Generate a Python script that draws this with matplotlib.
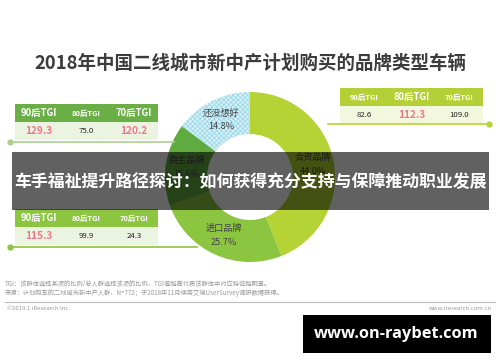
#!/usr/bin/env python3

import matplotlib.pyplot as plt
from matplotlib.patches import Rectangle
import numpy as np

plt.rcParams['font.family'] = ['Noto Sans CJK SC', 'DejaVu Sans']
plt.rcParams['hatch.linewidth'] = 0.6

# donut data
brands = ['合资品牌', '进口品牌', '自主品牌', '还没想好']
shares = [44.0, 25.7, 15.6, 14.8]

# TGI tables
tgi_cols = ['90后TGI', '80后TGI', '70后TGI']
tgi_zizhu = [129.3, 75.0, 120.2]
tgi_jinkou = [115.3, 99.9, 24.3]
tgi_hezi = [82.6, 112.3, 109.0]

title = '2018年中国二线城市新中产计划购买的品牌类型车辆'
banner = '车手福祉提升路径探讨：如何获得充分支持与保障推动职业发展'
note1 = 'TGI：该群体选择某项的比例/总人群选择该项的比例，TGI值越高代表该群体中对应特征越明显。'
note2 = '来源：计划购车的二线城市新中产人群，N=772；于2018年11月使用艾瑞UserSurvey调研数据获得。'

colors = ['#b5d334', '#8cc540', '#5fab40', '#d8f1f8']
pink = '#f0758a'

fig = plt.figure(figsize=(5, 3.62), dpi=100)
ax = fig.add_axes([0, 0, 1, 1])

cx, cy, R = 250, 177, 85
wedges, _ = ax.pie(shares, colors=colors, startangle=-90, counterclock=True,
                   radius=R, center=(cx, cy),
                   wedgeprops=dict(width=42, linewidth=0))
wedges[3].set_hatch('xxxxxxx')
wedges[3].set_edgecolor('#9ad8ea')
wedges[3].set_linewidth(0)

ax.set_xlim(0, 500)
ax.set_ylim(362, 0)
ax.axis('off')

# slice labels at the ring middle
rmid = R - 21
for w, name, s in zip(wedges, brands, shares):
    t = np.deg2rad((w.theta1 + w.theta2) / 2)
    x = cx + rmid * np.cos(t)
    y = cy + rmid * np.sin(t)
    ax.text(x, y - 7, name, ha='center', va='center', fontsize=6.6, color='#444444')
    ax.text(x, y + 7, f'{s:.1f}%', ha='center', va='center', fontsize=6.6, color='#444444')

ax.text(250, 63, title, ha='center', va='center', fontsize=13.3,
        fontweight='bold', color='#3c3c3c')


def tgi_table(x0, y0, vals, head_color, row_color, line_y, line_x0, line_x1, dot_x, line_color):
    w, h = 143, 18
    ax.add_patch(Rectangle((x0, y0), w, h, color=head_color, lw=0))
    ax.add_patch(Rectangle((x0, y0 + h), w, h, color=row_color, lw=0))
    for i, (c, v) in enumerate(zip(tgi_cols, vals)):
        xc = x0 + w / 6 + i * w / 3
        hi = v > 110
        ax.text(xc, y0 + h / 2, c, ha='center', va='center',
                fontsize=6.8 if hi else 5.4, color='white', fontweight='bold')
        ax.text(xc, y0 + h * 1.5, f'{v:.1f}', ha='center', va='center',
                fontsize=7.3 if hi else 5.6, color=pink if hi else '#222222',
                fontweight='bold' if hi else 'normal')
    ax.plot([line_x0, line_x1], [line_y, line_y], color=line_color, lw=1.2, zorder=1)
    ax.plot([dot_x], [line_y], 'o', color=line_color, ms=3.5, zorder=1)


tgi_table(15, 104, tgi_zizhu, '#6aaf46', '#ebf4e0', 142, 10, 174, 10, '#a9d18e')
tgi_table(15, 209, tgi_jinkou, '#8cc540', '#ebf4e0', 247, 10, 197, 10, '#8cc540')
tgi_table(340, 88, tgi_hezi, '#b5cf36', '#f3f7dd', 124, 328, 489, 489, '#b5d334')

# dark banner over the middle
ax.add_patch(Rectangle((12, 152), 477, 58, color='black', alpha=0.62, lw=0, zorder=5))
ax.text(250, 182, banner, ha='center', va='center', fontsize=12.2,
        fontweight='bold', color='white', zorder=6)

# footer
ax.text(5, 284, note1, ha='left', va='center', fontsize=4.5, color='#999999')
ax.text(5, 293, note2, ha='left', va='center', fontsize=4.5, color='#999999')
ax.plot([5, 495], [302, 302], color='#bbbbbb', lw=0.8)
ax.text(7, 309, '©2019.1 iResearch Inc.', ha='left', va='center', fontsize=4.3, color='#999999')
ax.text(492, 309, 'www.iresearch.com.cn', ha='right', va='center', fontsize=4.3, color='#999999')

ax.add_patch(Rectangle((303, 315), 188, 38, color='black', lw=0, zorder=7))
ax.text(396, 334, 'www.on-raybet.com', ha='center', va='center', fontsize=11.8,
        fontweight='bold', color='white', family='Open Sans', zorder=8)

fig.savefig('out.png', dpi=100)
